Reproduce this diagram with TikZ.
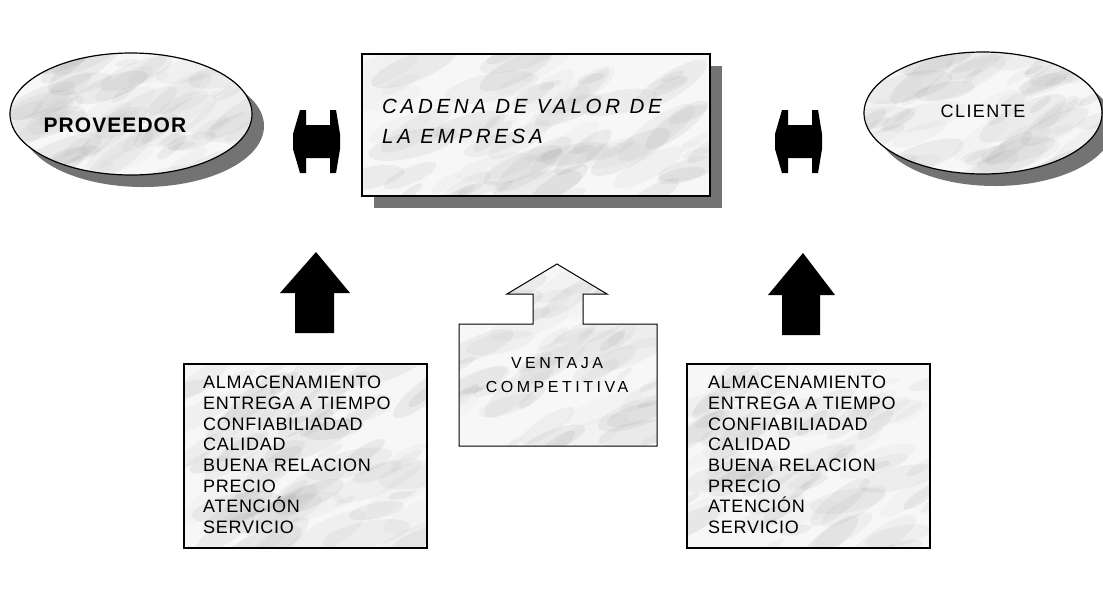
\documentclass[tikz,border=0pt]{standalone}
\usepackage{fontspec}
\setmainfont{Liberation Sans}
\newfontfamily\cadfont[LetterSpace=18]{Liberation Sans}
\newfontfamily\listfont[LetterSpace=4]{Liberation Sans}
\newfontfamily\ventfont[LetterSpace=22]{Liberation Sans}
\newfontfamily\cliefont[LetterSpace=8]{Liberation Sans}
\newfontfamily\provfont[LetterSpace=5]{Liberation Sans}
\usetikzlibrary{shapes.geometric,shadows,calc}
\newcommand\marbletex{%
 \foreach \k in {1,...,70}{%
  \pgfmathsetmacro\rx{rnd}%
  \pgfmathsetmacro\ry{rnd}%
  \pgfmathsetmacro\rr{4+16*rnd}%
  \pgfmathsetmacro\ra{10+30*rnd}%
  \pgfmathtruncatemacro\rg{20+40*rnd}%
  \fill[black!\rg, opacity=0.09] let \p1=(path picture bounding box.south west), \p2=(path picture bounding box.north east) in ({\x1+\rx*(\x2-\x1)},{\y1+\ry*(\y2-\y1)}) ellipse [x radius={2.4*\rr*1pt}, y radius={0.7*\rr*1pt}, rotate=\ra];
 }}
\begin{document}
\begin{tikzpicture}[x=1pt,y=-1pt,
  marble/.style={draw=black, line width=1.2pt, fill=black!3, path picture={\marbletex}},
  shad/.style={drop shadow={shadow xshift=12pt, shadow yshift=-12pt, fill=black!55, opacity=1}},
  blackarrow/.style={fill=black},
  listtext/.style={inner sep=0pt, align=left, anchor=west, font=\listfont\fontsize{18}{20.7}\selectfont},
  listbox/.style={rectangle, marble, minimum width=243pt, minimum height=184pt, inner sep=0pt}]
\pgfmathsetseed{5}
\useasboundingbox (0,0) rectangle (1103,598);
\fill[white] (0,0) rectangle (1103,598);

% ellipses
\node[ellipse, marble, shad, minimum width=242pt, minimum height=122pt, inner sep=0pt] (prov) at (131,114) {};
\node[font=\provfont\bfseries\fontsize{21}{21}\selectfont, inner sep=0pt] (provtxt) at (115,125) {PROVEEDOR};
\node[ellipse, marble, shad, minimum width=238pt, minimum height=122pt, inner sep=0pt] (clie) at (983,113) {};
\node[font=\cliefont\fontsize{18}{18}\selectfont, inner sep=0pt] (clietxt) at (983,111) {CLIENTE};

% central box
\node[rectangle, marble, shad, minimum width=348pt, minimum height=142pt, inner sep=0pt] (cad) at (536,125) {};
\node[inner sep=0pt, anchor=west, align=left, font=\cadfont\itshape\fontsize{20.5}{30}\selectfont] (cadtxt) at (382,121) {CADENA DE VALOR DE\\LA EMPRESA};

% double arrows
\fill[blackarrow] (300,110) -- (306,110) -- (306,125) -- (330,125) -- (330,110) -- (336,110) -- (340,134) -- (340,149) -- (336,173) -- (330,173) -- (330,158) -- (306,158) -- (306,173) -- (300,173) -- (293,149) -- (293,134) -- cycle;
\begin{scope}[xshift=482pt]
\fill[blackarrow] (300,110) -- (306,110) -- (306,125) -- (330,125) -- (330,110) -- (336,110) -- (340,134) -- (340,149) -- (336,173) -- (330,173) -- (330,158) -- (306,158) -- (306,173) -- (300,173) -- (293,149) -- (293,134) -- cycle;
\end{scope}

% up arrows
\fill[blackarrow] (316,252) -- (350,293) -- (334,293) -- (334,333) -- (295,333) -- (295,293) -- (280,293) -- cycle;
\fill[blackarrow] (803,253) -- (835,295) -- (820,295) -- (820,335) -- (782,335) -- (782,295) -- (768,295) -- cycle;

% ventaja competitiva
\path[marble, line width=1pt] (459,324) -- (533,324) -- (533,294) -- (507,294) -- (557,264) -- (607,294) -- (583,294) -- (583,324) -- (657,324) -- (657,446) -- (459,446) -- cycle;
\node[inner sep=0pt, align=center, font=\ventfont\fontsize{16}{24}\selectfont] (vent) at (557,375) {VENTAJA\\COMPETITIVA};

% list boxes
\node[listbox] (lbox) at (305.5,456) {};
\node[listtext] (ltxt) at (203,455) {ALMACENAMIENTO\\ENTREGA A TIEMPO\\CONFIABILIADAD\\CALIDAD\\BUENA RELACION\\PRECIO\\ATENCIÓN\\SERVICIO};
\node[listbox] (rbox) at (808.5,456) {};
\node[listtext] (rtxt) at (708,455) {ALMACENAMIENTO\\ENTREGA A TIEMPO\\CONFIABILIADAD\\CALIDAD\\BUENA RELACION\\PRECIO\\ATENCIÓN\\SERVICIO};
\end{tikzpicture}
\end{document}
